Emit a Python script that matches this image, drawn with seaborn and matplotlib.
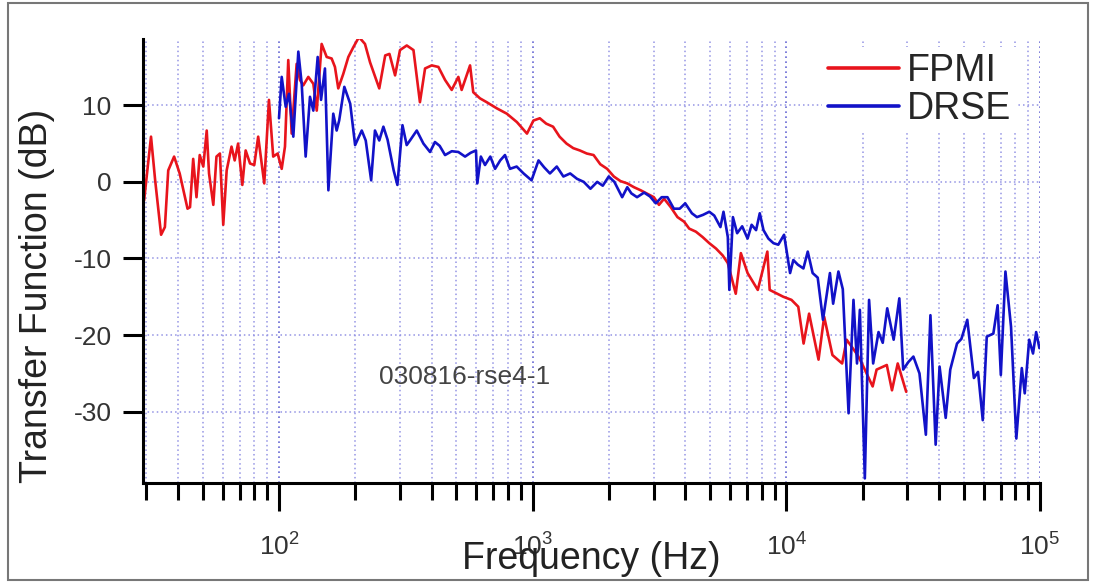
import matplotlib.pyplot as plt
import matplotlib.ticker as mticker
from matplotlib.patches import Rectangle
import pandas as pd
import seaborn as sns

# FPMI transfer function (Hz, dB)
fpmi_freq = [
    29.4, 31.3, 32.5, 34.3, 35.5, 36.6, 38.6, 40.6, 43.6, 44.6, 45.9, 47.3,
    48.7, 50.3, 51.9, 53.0, 55.1, 56.7, 58.5, 60.3, 62.2, 65.0, 66.9, 69.0,
    71.7, 73.9, 76.9, 79.9, 82.8, 87.5, 91.3, 94.9, 98.8, 102.5, 105.6, 108.8,
    112.2, 117.4, 121, 124.7, 130.5, 136.6, 140.9, 147.3, 154.2, 161.3, 166.2,
    171.3, 179.3, 187.7, 196.6, 206.7, 218.3, 228.6, 248.5, 262.3, 272.6,
    286.9, 300, 319, 339, 359.5, 376.6, 400, 425, 451.6, 479.7, 509.5, 525,
    566.6, 583.3, 620, 659, 722, 791, 867, 950, 1007, 1067, 1131, 1204, 1277,
    1360, 1446, 1535, 1635, 1739, 1848, 1967, 2090, 2220, 2361, 2510, 2667,
    3005, 3148, 3298, 3504, 3724, 3956, 4142, 4401, 4677, 4970, 5283, 5613,
    5881, 6162, 6320, 6620, 7037, 7720, 8420, 8600, 9740, 10480, 11150,
    11700, 12300, 13400, 14100, 15200, 16600, 17300, 19100, 20000, 21900,
    22700, 24900, 26100, 27500, 29700,
]
fpmi_db = [
    -2.4, 5.9, 0.2, -6.9, -5.9, 1.5, 3.3, 1.1, -3.5, -3.3, 3.0, -2.0,
    3.5, 2.0, 6.7, 1.1, -3.0, 3.3, 3.7, -5.6, 1.5, 4.6, 2.8, 5.0,
    -0.4, 4.1, 2.4, 2.2, 5.9, -0.2, 10.7, 3.3, 3.7, 1.7, 4.6, 15.9,
    6.3, 15.4, 13.3, 12.6, 13.7, 12.8, 9.3, 18.0, 16.3, 16.1, 15.0,
    12.2, 14.1, 16.3, 17.6, 18.9, 18.0, 15.6, 12.2, 16.5, 16.7,
    13.9, 17.2, 17.8, 17.2, 10.4, 14.8, 15.2, 15.0, 13.3, 12.0, 13.7, 12.0,
    15.2, 11.7, 10.9, 10.4, 9.6, 8.9, 7.8, 6.3, 8.0, 8.3, 7.6, 7.2, 5.9,
    5.0, 4.4, 4.1, 3.7, 3.5, 2.3, 1.7, 0.7, 0.1, -0.2, -0.7, -1.1,
    -2.0, -3.0, -2.2, -3.3, -4.6, -5.2, -6.1, -6.5, -7.2, -8.0, -8.7, -9.6,
    -10.6, -13.2, -14.6, -9.3, -11.9, -14.1, -9.1, -14.1, -15.0, -15.4, -16.3,
    -21.1, -17.2, -23.2, -17.6, -22.6, -23.7, -20.6, -22.6, -23.9, -26.7,
    -24.5, -23.9, -27.2, -23.7, -27.4,
]

# DRSE transfer function (Hz, dB)
drse_freq = [
    100, 102.5, 106.3, 109.5, 113.9, 119.2, 122.9, 127.4, 132.5, 136.6, 142.1,
    146.5, 151.8, 156.6, 163.7, 168.8, 172.7, 181, 190.9, 199.6, 212, 219.8,
    230.9, 239, 248.5, 258, 268, 283.2, 293, 306.8, 318.8, 330, 349.3, 371,
    394, 412, 430, 451.6, 480, 509.5, 541.5, 570, 598, 605, 625, 649, 681,
    711, 745, 778, 814, 865, 921, 990, 1055, 1110, 1170, 1245, 1322, 1406,
    1496, 1590, 1690, 1797, 1890, 1995, 2100, 2254, 2361, 2450, 2580, 2750,
    2900, 3060, 3226, 3400, 3603, 3800, 3995, 4245, 4444, 4700, 4970, 5200,
    5500, 5655, 5881, 5963, 6160, 6400, 6700, 7037, 7300, 7600, 7860, 8130,
    8500, 8900, 9300, 9800, 10060, 10350, 10660, 11100, 11680, 12150, 12700,
    13300, 13950, 14860, 15300, 16050, 16700, 17600, 18400, 19000, 19500,
    20400, 21200, 22000, 23100, 24000, 25000, 26500, 27900, 28900, 30300,
    31700, 33500, 35500, 37000, 38800, 40200, 42500, 44300, 47100, 49000,
    51700, 54900, 57000, 59500, 61700, 65500, 68100, 70100, 73100, 76900,
    80700, 84800, 87100, 90700, 93900, 96600, 99500,
]
drse_db = [
    8.3, 13.7, 9.8, 11.5, 5.9, 17.0, 12.8, 3.3, 11.1, 9.3, 16.3,
    10.7, 14.8, -1.1, 8.9, 6.7, 8.0, 12.4, 10.2, 4.8, 6.7, 5.4,
    0.2, 6.7, 5.4, 7.2, 5.5, 1.5, -0.4, 7.4, 4.8, 5.5, 6.7, 5.0,
    3.9, 5.2, 4.7, 3.5, 4.0, 3.9, 3.3, 3.8, 4.1, -0.2, 3.3, 2.2, 3.3,
    1.7, 2.8, 3.5, 1.7, 2.0, 1.1, 0.2, 2.8, 1.9, 1.1, 2.0, 0.7, 1.1,
    0.4, 0.0, -0.9, 0.0, -0.5, 0.7, 0.0, -2.0, -0.7, -1.5, -2.0, -1.4,
    -1.9, -2.8, -2.0, -2.0, -3.5, -3.5, -2.8, -4.1, -4.6, -4.3, -3.9, -4.4,
    -5.9, -3.9, -7.2, -14.1, -4.6, -6.7, -5.8, -7.4, -5.6, -6.3, -4.1, -6.3,
    -7.4, -8.0, -8.2, -6.9, -9.3, -11.9, -10.2, -10.8, -11.3, -9.1, -11.9,
    -12.5, -18.0, -11.9, -15.9, -11.7, -14.0, -30.2, -15.4, -23.7, -16.7,
    -38.7, -15.4, -23.7, -19.6, -21.0, -16.5, -20.6, -15.2, -24.5, -23.5,
    -22.8, -25.0, -33.0, -17.4, -34.3, -24.1, -30.8, -24.5, -21.1, -20.5,
    -18.0, -25.6, -24.8, -31.1, -20.2, -19.8, -16.1, -25.2, -11.7, -18.9,
    -33.5, -24.3, -27.6, -20.6, -22.4, -19.6, -21.7,
]

series_names = ["FPMI", "DRSE"]
series_colors = {"FPMI": "#e8141c", "DRSE": "#1212c8"}
y_ticks = [10, 0, -10, -20, -30]
run_label = "030816-rse4-1"

sns.set_style("white")
plt.rcParams["font.family"] = ["Liberation Sans", "DejaVu Sans"]
plt.rcParams["axes.unicode_minus"] = False

df = pd.concat([
    pd.DataFrame({"freq": fpmi_freq, "db": fpmi_db, "series": "FPMI"}),
    pd.DataFrame({"freq": drse_freq, "db": drse_db, "series": "DRSE"}),
], ignore_index=True)

fig = plt.figure(figsize=(10.94, 5.82), dpi=100)
ax = fig.add_axes([0.1307, 0.1701, 0.8199, 0.7636])

sns.lineplot(
    data=df, x="freq", y="db", hue="series", hue_order=series_names,
    palette=series_colors, estimator=None, sort=False, linewidth=1.9, ax=ax,
)

ax.set_xscale("log")
ax.set_xlim(29.1, 1e5)
ax.set_ylim(-39.3, 18.7)
ax.set_yticks(y_ticks)
ax.xaxis.set_major_locator(mticker.LogLocator(base=10, numticks=10))
ax.xaxis.set_minor_locator(mticker.LogLocator(base=10, subs=range(2, 10), numticks=50))
ax.xaxis.set_minor_formatter(mticker.NullFormatter())

# dotted blue grid, vertical at every decade step
ax.set_axisbelow(True)
ax.grid(True, which="major", axis="x", color="#6a6ad4", linestyle=(0, (1, 2)), linewidth=1.2)
ax.grid(True, which="minor", axis="x", color="#9494e4", linestyle=(0, (1, 2)), linewidth=1.1)
ax.grid(True, which="major", axis="y", color="#9494e4", linestyle=(0, (1, 2)), linewidth=1.1)

ax.spines["top"].set_visible(False)
ax.spines["right"].set_visible(False)
for side in ["left", "bottom"]:
    ax.spines[side].set_linewidth(2.2)
    ax.spines[side].set_color("black")

ax.tick_params(axis="y", which="major", left=True, direction="out", length=14.5,
               width=2.2, pad=8, labelsize=19, labelcolor="#333333", color="black")
ax.tick_params(axis="x", which="major", bottom=True, direction="out", length=20,
               width=2.2, pad=16, labelsize=19, labelcolor="#333333", color="black")
ax.tick_params(axis="x", which="minor", bottom=True, direction="out", length=12,
               width=2.2, color="black")

ax.set_xlabel("Frequency (Hz)", fontsize=27, color="#222222")
ax.set_ylabel("Transfer Function (dB)", fontsize=27, color="#222222")
ax.xaxis.set_label_coords(0.5, -0.13)
ax.yaxis.set_label_coords(-0.098, 0.42)

ax.text(0.358, 0.239, run_label, transform=ax.transAxes, ha="center",
        va="center", fontsize=19, color="#444444")

handles, labels = ax.get_legend_handles_labels()
leg = ax.legend(
    handles=handles, labels=labels, loc="upper left", bbox_to_anchor=(0.757, 0.98),
    borderaxespad=0, fontsize=27, frameon=True, facecolor="white", edgecolor="none",
    framealpha=1, fancybox=False, handlelength=1.9, handletextpad=0.21,
    borderpad=0.16, labelspacing=0.05,
)
for line in leg.get_lines():
    line.set_linewidth(2.6)

# thin grey frame around the whole picture
fig.patches.append(Rectangle((8 / 1094, 2 / 582), 1080 / 1094, 577 / 582,
                             transform=fig.transFigure, fill=False,
                             edgecolor="#777777", linewidth=1.5))

fig.savefig("out.png", dpi=100)
